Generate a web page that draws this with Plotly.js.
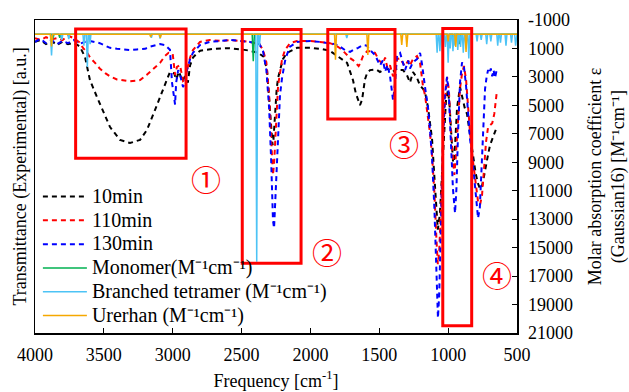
<!DOCTYPE html>
<html>
<head>
<meta charset="utf-8">
<script src="https://cdn.plot.ly/plotly-3.0.1.min.js"></script>
<style>html,body{margin:0;padding:0;background:#fff;}#chart{width:629px;height:392px;}</style>
</head>
<body>
<div id="chart"></div>
<script>
// ---- Experimental spectra (left axis, transmittance a.u.) ----
const f10 = [4000,3960,3920,3880,3840,3800,3760,3720,3690,3673,3637,3601,3550,3506,3455,3383,3310,3237,3187,3129,3092,3041,3020,2990,2975,2955,2930,2910,2890,2874,2853,2820,2800,2700,2600,2500,2440,2380,2340,2315,2300,2285,2275,2268,2258,2245,2235,2221,2200,2170,2130,2097,2000,1930,1860,1820,1785,1750,1734,1712,1691,1670,1654,1640,1625,1618,1604,1589,1567,1530,1516,1495,1470,1450,1422,1400,1371,1349,1328,1300,1277,1255,1226,1204,1182,1168,1146,1117,1100,1085,1075,1060,1045,1030,1015,1001,990,975,962,950,935,914,900,880,863,845,820,800,785,768,754,740,725,710,696,680,660,645];
const t10 = [93.0,93.6,92.3,93.3,92.0,93.0,92.3,92.6,92.0,91.4,88.2,80.8,75.4,71.2,65.8,61.7,60.7,61.7,64.9,71.2,75.4,80.8,83.4,83.0,81.0,83.5,80.5,82.0,80.0,85.5,88.0,89.5,90.2,90.8,91.0,90.6,90.2,89.5,88.3,84.0,76.0,66.0,60.0,62.0,70.0,78.0,81.5,84.0,87.5,89.5,90.5,91.1,91.1,90.8,90.2,89.0,88.0,87.0,86.3,83.5,80.8,76.5,74.4,72.8,74.5,77.0,81.0,83.0,84.0,84.2,84.0,83.4,84.0,84.5,84.0,83.5,84.5,84.0,84.0,82.5,80.0,83.4,81.5,79.0,78.0,77.0,72.0,62.0,50.0,40.0,33.0,38.0,52.0,66.0,75.0,77.5,73.0,62.0,53.0,60.0,72.0,78.6,76.0,72.0,70.0,64.0,57.0,51.0,48.0,46.0,47.0,50.0,53.0,57.0,60.0,62.0,64.0,66.0];

const f110 = [4000,3960,3920,3880,3840,3800,3760,3720,3680,3650,3620,3600,3564,3530,3490,3455,3405,3350,3310,3260,3237,3190,3165,3130,3092,3056,3030,3000,2983,2969,2947,2925,2910,2896,2874,2853,2802,2730,2650,2580,2510,2440,2370,2344,2320,2300,2285,2272,2264,2250,2235,2221,2206,2184,2148,2097,2000,1930,1858,1821,1785,1749,1712,1691,1665,1650,1640,1618,1589,1567,1531,1500,1473,1458,1440,1422,1400,1385,1371,1349,1328,1313,1290,1277,1255,1226,1204,1182,1168,1153,1132,1117,1100,1085,1075,1065,1050,1037,1023,1008,995,980,965,955,945,930,914,899,885,870,856,841,820,800,783,768,754,740,725,710,696,680,665,655,645];
const t110 = [94.2,93.6,94.5,93.8,94.2,93.6,95.0,94.2,93.0,91.0,89.5,88.0,86.3,84.5,83.0,82.0,81.0,80.7,80.4,80.6,80.8,82.4,83.4,85.0,86.3,88.5,89.5,89.2,82.4,85.0,85.6,80.5,81.0,84.0,88.0,90.4,93.0,93.6,93.3,93.6,93.3,93.0,92.3,90.4,86.5,76.0,62.0,50.5,54.0,66.0,79.0,83.0,87.5,90.5,92.6,93.3,93.3,93.0,92.6,92.0,91.0,89.5,87.8,87.2,85.9,85.3,86.0,88.5,90.0,90.0,89.5,87.0,86.0,88.0,84.5,85.5,82.0,84.0,87.5,87.8,86.2,85.3,87.0,85.6,87.5,88.5,86.3,78.6,76.0,71.0,64.0,57.0,45.0,30.0,22.0,26.0,42.0,62.0,74.0,81.8,78.0,64.0,54.0,50.5,56.0,68.0,78.0,83.0,85.3,81.0,72.0,64.0,55.0,47.0,42.0,41.0,44.0,52.0,61.0,65.8,66.5,67.0,70.0,75.0,77.6];

const f130 = [4000,3960,3920,3880,3840,3800,3760,3720,3680,3640,3600,3564,3530,3490,3455,3405,3350,3310,3260,3200,3165,3130,3092,3056,3020,3005,2990,2983,2975,2960,2947,2925,2910,2896,2874,2853,2802,2730,2650,2580,2510,2440,2370,2344,2320,2300,2285,2272,2264,2255,2245,2235,2221,2206,2184,2170,2148,2097,2000,1930,1858,1821,1785,1749,1712,1691,1654,1618,1589,1567,1531,1516,1495,1473,1458,1440,1422,1400,1385,1371,1349,1328,1313,1290,1277,1255,1226,1204,1190,1168,1146,1132,1117,1100,1085,1074,1065,1050,1037,1023,1008,995,980,965,950,940,928,914,899,885,870,856,841,820,800,783,770,760,745,732,720,710,700,690,680,670,660,650,645];
const t130 = [93.0,94.0,92.6,93.6,92.3,93.3,92.6,93.6,92.3,93.0,93.3,93.0,92.6,91.8,91.1,90.8,90.6,90.4,90.6,90.8,91.5,92.0,92.3,92.0,90.5,80.0,74.0,73.0,80.0,84.0,82.5,78.6,80.0,84.0,87.5,89.5,92.0,93.0,93.3,93.6,93.3,93.0,92.3,90.0,84.0,72.0,55.0,36.0,33.5,42.0,55.0,66.0,76.0,81.5,87.0,89.0,91.5,93.0,93.3,93.0,92.6,92.3,91.5,90.4,89.8,90.4,91.1,92.0,91.8,90.4,88.8,87.5,85.5,87.2,83.5,85.6,82.0,74.4,80.0,88.8,89.5,86.3,84.0,87.0,84.5,86.5,87.5,89.5,86.0,78.6,72.0,65.0,56.0,40.0,20.0,4.8,12.0,38.0,62.0,76.0,81.8,76.0,60.0,46.0,38.3,46.0,64.0,80.0,86.5,85.0,79.0,70.0,62.0,54.0,44.0,36.7,40.0,50.0,68.0,78.0,82.0,84.0,83.0,84.5,82.0,84.0,81.5,83.5,84.5];

// ---- Computed spectra (right axis, molar absorption coefficient) ----
const fMono = [4000,3878,3870,3862,3828,3820,3812,2423,2415,2407,1008,1000,992,968,960,952,928,920,912,500];
const eMono = [0,0,300,0,0,250,0,0,1900,0,0,600,0,0,500,0,0,700,0,0];

const fTetra = [4000,3888,3880,3872,3812,3805,3798,3762,3755,3748,3652,3645,3638,3627,3620,3613,3606,3600,3594,3162,3155,3148,3099,3092,3085,2397,2390,2383,2377,2370,2363,1743,1736,1729,1087,1080,1073,1067,1060,1053,1047,1040,1033,1027,1020,1013,1007,1000,993,990,985,979,972,965,958,956,950,944,937,930,923,917,910,903,897,890,883,877,870,863,857,850,843,797,790,783,767,760,753,727,720,713,697,690,683,647,640,633,627,620,613,587,580,573,547,540,533,517,510,503,500];
const eTetra = [0,0,1500,0,0,400,0,0,350,0,0,800,0,0,2300,0,0,700,0,0,250,0,0,300,0,0,16000,0,0,800,0,0,270,0,0,1300,0,0,1200,0,0,1300,0,0,900,0,0,2000,0,0,1000,0,0,1200,0,0,800,0,0,1100,0,0,900,0,0,1300,0,0,1000,0,0,1700,0,0,500,0,0,400,0,0,700,0,0,500,0,0,800,0,0,600,0,0,800,0,0,600,0,0,800,0,0];

const fUre = [4000,3888,3880,3872,3167,3160,3153,3097,3090,3083,1825,1818,1811,1590,1583,1576,1344,1337,1330,1307,1300,1293,1007,1000,993,952,945,938,877,870,863,500];
const eUre = [0,0,850,0,0,200,0,0,250,0,0,1800,0,0,1450,0,0,750,0,0,900,0,0,500,0,0,900,0,0,1250,0,0];

const seriesNames = ['10min','110min','130min','Monomer(M⁻¹cm⁻¹)','Branched tetramer (M⁻¹cm⁻¹)','Urerhan (M⁻¹cm⁻¹)'];
const xTickVals = [4000,3500,3000,2500,2000,1500,1000,500];
const y2TickVals = [-1000,1000,3000,5000,7000,9000,11000,13000,15000,17000,19000,21000];
const y2TickText = ['-1000','1000','3000','5000','7000','9000','11000','13000','15000','17000','19000','21000'];

const FONT = "'Liberation Serif'";
const dashStyle = '5px,4px';
const legendLabel = s => '<span style="font-size:20px">' + s + '</span>';

const traces = [
  {x:f10, y:t10, name:legendLabel(seriesNames[0]), mode:'lines', line:{color:'#000000', width:2, dash:dashStyle}, yaxis:'y'},
  {x:f110, y:t110, name:legendLabel(seriesNames[1]), mode:'lines', line:{color:'#FF0000', width:2, dash:dashStyle}, yaxis:'y'},
  {x:f130, y:t130, name:legendLabel(seriesNames[2]), mode:'lines', line:{color:'#0000FF', width:2, dash:dashStyle}, yaxis:'y'},
  {x:fMono, y:eMono, name:legendLabel(seriesNames[3]), mode:'lines', line:{color:'#00B050', width:1.5}, yaxis:'y2'},
  {x:fTetra, y:eTetra, name:legendLabel(seriesNames[4]), mode:'lines', line:{color:'#4DC3F5', width:1.5}, yaxis:'y2'},
  {x:fUre, y:eUre, name:legendLabel(seriesNames[5]), mode:'lines', line:{color:'#F5A800', width:1.5}, yaxis:'y2'}
];

const boxes = [[3705,2903,0.971,0.558],[2495,2068,0.970,0.223],[1874,1386,0.970,0.684],[1039,829,0.973,0.023]];
const shapes = boxes.map(b => ({type:'rect', xref:'x', yref:'paper', x0:b[0], x1:b[1], y0:b[3], y1:b[2], line:{color:'#FF0000', width:3}, fillcolor:'rgba(0,0,0,0)'}));

const labels = [['①',2758,0.495],['②',1879,0.185],['③',1320,0.607],['④',645,0.112]];
const annotations = labels.map(l => ({text:l[0], x:l[1], y:l[2], xref:'x', yref:'paper', showarrow:false, font:{family:"'Noto Sans CJK JP'", size:30, color:'#FF0000'}}));

const layout = {
  width:629, height:392,
  margin:{l:35, r:112, t:20, b:59},
  paper_bgcolor:'#ffffff', plot_bgcolor:'#ffffff',
  font:{family:FONT, size:18, color:'#000000'},
  showlegend:true,
  legend:{x:0.006, y:0.49, xanchor:'left', yanchor:'top', bgcolor:'rgba(0,0,0,0)', font:{family:FONT, size:16}, itemwidth:44, tracegroupgap:0},
  xaxis:{range:[4000,500], tickvals:xTickVals, ticks:'inside', ticklen:5, tickcolor:'#000', showline:true, linecolor:'#000', linewidth:1.5, mirror:true, showgrid:false, zeroline:false, ticklabelstandoff:5, tickfont:{family:FONT, size:18}, title:{text:'Frequency [cm<sup>-1</sup>]', font:{family:FONT, size:18}, standoff:10}},
  yaxis:{range:[0,100], showticklabels:false, ticks:'', showline:true, linecolor:'#000', linewidth:1.5, mirror:true, showgrid:false, zeroline:false, title:{text:'Transmittance (Experimental) [a.u.]', font:{family:FONT, size:18}, standoff:2}},
  yaxis2:{overlaying:'y', side:'right', range:[21000,-1000], tickvals:y2TickVals, ticktext:y2TickText, ticks:'inside', ticklen:5, tickcolor:'#000', showline:true, linecolor:'#000', linewidth:1.5, showgrid:false, zeroline:false, ticklabelstandoff:6, tickfont:{family:FONT, size:18}, title:{text:'Molar absorption coefficient ε<br>(Gaussian16) [M⁻¹cm⁻¹]', font:{family:FONT, size:18}, standoff:19}},
  shapes:shapes,
  annotations:annotations
};

Plotly.newPlot('chart', traces, layout, {displayModeBar:false, staticPlot:true});
</script>
</body>
</html>
